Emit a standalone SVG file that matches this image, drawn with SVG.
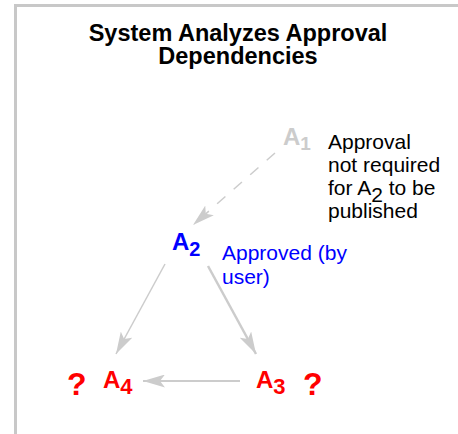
<svg xmlns="http://www.w3.org/2000/svg" width="458" height="434" viewBox="0 0 458 434">
<style>
text{font-family:"Liberation Sans",Arial,sans-serif}
.title{font-size:23.5px;font-weight:bold;fill:#000;text-anchor:middle}
.node{font-weight:bold;font-size:24px}
.note{font-size:21px}
.conn{stroke:#cccccc;fill:none}
</style>
<defs>
<marker id="ah" viewBox="0 0 22 13" refX="22" refY="6.5" markerWidth="22" markerHeight="13" markerUnits="userSpaceOnUse" orient="auto">
<path d="M0,0 L22,6.5 L0,13 L5,6.5 z" fill="#cccccc"/>
</marker>
</defs>
<path d="M15.5,434 V5.5 H458" fill="none" stroke="#c8c8c8" stroke-width="3"/>
<g id="title">
<text class="title" x="238" y="41">System Analyzes Approval</text>
<text class="title" x="238" y="64">Dependencies</text>
</g>
<g id="connectors">
<line class="conn" x1="275" y1="153" x2="193" y2="225" stroke-width="1.5" stroke-dasharray="11,11" marker-end="url(#ah)"/>
<line class="conn" x1="165" y1="264" x2="116" y2="354" stroke-width="1.5" marker-end="url(#ah)"/>
<line class="conn" x1="208" y1="266" x2="256" y2="354" stroke-width="2.5" marker-end="url(#ah)"/>
<line class="conn" x1="240" y1="381" x2="143" y2="381" stroke-width="2" marker-end="url(#ah)"/>
</g>
<g id="A1">
<text class="node" x="283" y="145" fill="#cccccc">A<tspan font-size="19" dy="5">1</tspan></text>
<text class="note" fill="#000"><tspan x="328" y="149">Approval</tspan><tspan x="328" y="172">not required</tspan><tspan x="328" y="195">for A<tspan dy="7">2</tspan><tspan dy="-7"> to be</tspan></tspan><tspan x="328" y="218">published</tspan></text>
</g>
<g id="A2">
<text class="node" x="172" y="250" fill="#0000ff">A<tspan font-size="20" dy="6">2</tspan></text>
<text class="note" fill="#0000ff" font-size="23.5"><tspan x="222" y="260">Approved (by</tspan><tspan x="222" y="284">user)</tspan></text>
</g>
<g id="A3">
<text class="node" x="256" y="388" fill="#ff0000" font-size="27">A<tspan font-size="22" dy="6">3</tspan></text>
<text x="303" y="395" fill="#ff0000" font-weight="bold" font-size="32">?</text>
</g>
<g id="A4">
<text class="node" x="103" y="388" fill="#ff0000" font-size="27">A<tspan font-size="22" dy="6">4</tspan></text>
<text x="67" y="395" fill="#ff0000" font-weight="bold" font-size="32">?</text>
</g>
</svg>
